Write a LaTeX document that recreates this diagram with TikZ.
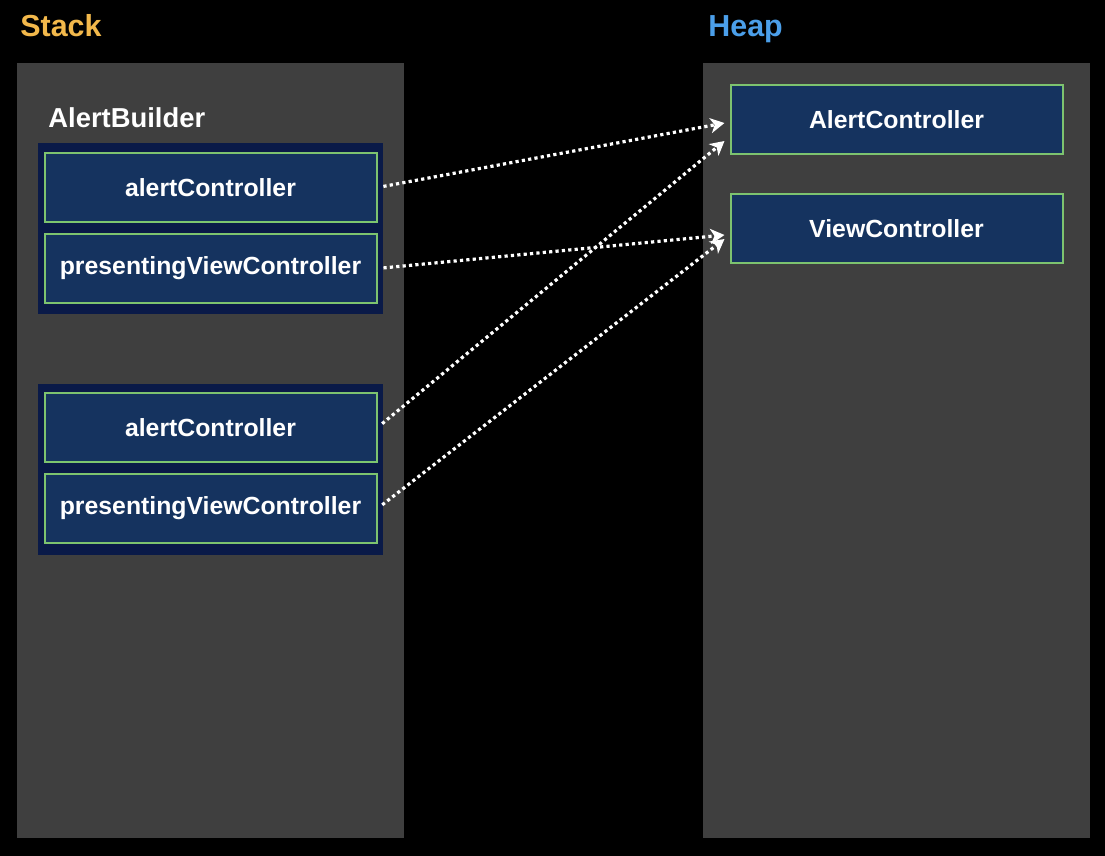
\documentclass[tikz,border=0pt]{standalone}
\usepackage{fontspec}
\setmainfont{Liberation Sans}
\usepackage{tikz}
\usepackage{xcolor}
\usetikzlibrary{arrows.meta}
\usetikzlibrary{positioning}

\definecolor{stackgold}{HTML}{F2B84B}
\definecolor{heapblue}{HTML}{4B9FEA}
\definecolor{panelgray}{HTML}{3F3F3F}
\definecolor{groupnavy}{HTML}{0A1A48}
\definecolor{fieldblue}{HTML}{15335F}
\definecolor{edgegreen}{HTML}{7DC36F}

\tikzset{
  title/.style={anchor=base west, inner sep=0pt, font=\bfseries\fontsize{15.2}{18}\selectfont},
  group/.style={fill=groupnavy, inner sep=0pt, minimum width=172.5pt, minimum height=85.5pt},
  field/.style={draw=edgegreen, line width=1pt, fill=fieldblue, text=white, inner sep=0pt,
    minimum width=166pt, minimum height=34.5pt, font=\bfseries\fontsize{12.4}{14}\selectfont},
  ptr/.style={white, line width=1.6pt, dash pattern=on 1.6pt off 1.6pt,
    -{Stealth[length=7pt,width=7.5pt,inset=2pt]}, shorten <=3pt}
}

\begin{document}
\begin{tikzpicture}[x=0.5pt,y=-0.5pt]
\fill[black] (0,0) rectangle (1105,856);

% panels
\fill[panelgray] (17,63) rectangle (404,838);
\fill[panelgray] (703,63) rectangle (1090,838);

\node[title, text=stackgold] (stacklbl) at (20,37) {Stack};
\node[title, text=heapblue] (heaplbl) at (708,37) {Heap};
\node[title, text=white, font=\bfseries\fontsize{13.7}{16}\selectfont] (builderlbl) at (48,128) {AlertBuilder};

% stack side
\node[group] (builder1) at (210.5,229) {};
\node[field] (ac1) at (210.5,187.5) {alertController};
\node[field] (pvc1) at (210.5,268.5) {presentingViewController};

\node[group] (builder2) at (210.5,469) {};
\node[field] (ac2) at (210.5,427.5) {alertController};
\node[field] (pvc2) at (210.5,508.5) {presentingViewController};

% heap side
\node[field] (heapac) at (896.5,120) {AlertController};
\node[field] (heapvc) at (896.5,229) {ViewController};

% references
\draw[ptr] (ac1.east) -- ([shift={(-5,3)}]heapac.west);
\draw[ptr] (pvc1.east) -- ([shift={(-5,6)}]heapvc.west);
\draw[ptr] (ac2.east) -- ([shift={(-5,21)}]heapac.west);
\draw[ptr] (pvc2.east) -- ([shift={(-5,10)}]heapvc.west);

\end{tikzpicture}
\end{document}
